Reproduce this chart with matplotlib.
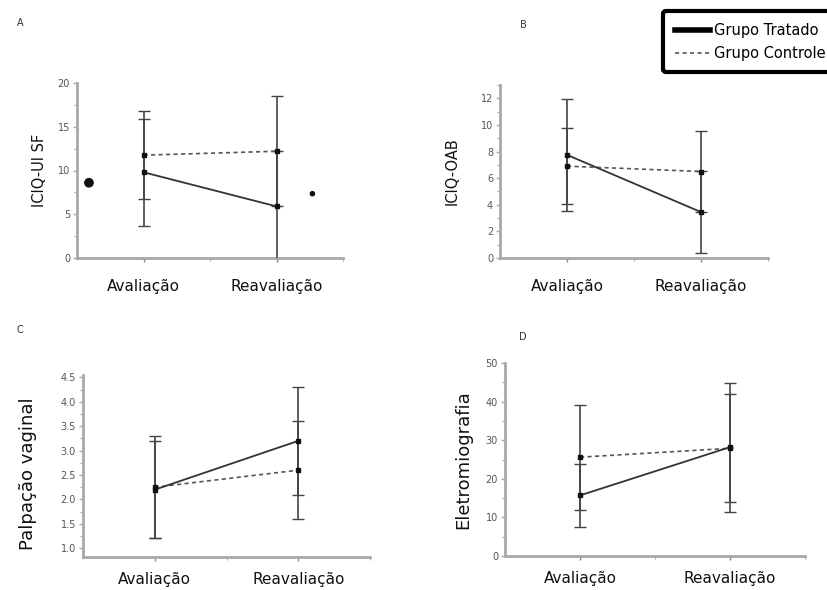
import matplotlib
matplotlib.use("Agg")
import matplotlib.pyplot as plt
from matplotlib.lines import Line2D
from matplotlib.ticker import MultipleLocator

plt.rcParams['font.family'] = ['DejaVu Sans']

categories = ["Avaliação", "Reavaliação"]
x_pos = [1, 2]

# Panel A: ICIQ-UI SF
a_trat = [9.8, 5.9]
a_trat_err = [6.1, 6.3]
a_ctrl = [11.75, 12.2]
a_ctrl_err = [5.0, 6.3]
a_stray_x = [0.59, 2.27]
a_stray_y = [8.6, 7.35]
a_stray_size = [6, 3]

# Panel B: ICIQ-OAB
b_trat = [7.75, 3.45]
b_trat_err = [4.2, 3.07]
b_ctrl = [6.9, 6.5]
b_ctrl_err = [2.85, 3.07]

# Panel C: Palpação vaginal
c_trat = [2.2, 3.2]
c_trat_err = [1.0, 1.1]
c_ctrl = [2.25, 2.6]
c_ctrl_err = [1.05, 1.0]

# Panel D: Eletromiografia
d_trat = [15.7, 28.2]
d_trat_err = [8.2, 16.7]
d_ctrl = [25.6, 27.9]
d_ctrl_err = [13.6, 14.0]

fig = plt.figure(figsize=(8.27, 5.90), dpi=100)

W, H = 827, 590
def axes_px(l, t, r, b):
    return fig.add_axes([l / W, 1 - b / H, (r - l) / W, (b - t) / H])

panels = [
    dict(box=(77, 83, 343, 258), trat=a_trat, te=a_trat_err, ctrl=a_ctrl, ce=a_ctrl_err,
         ylim=(0, 20), major=5, minor=2.5, label="ICIQ-UI SF", lsize=10.5,
         letter="A", lpos=(20, 23), fmt="{:.0f}", lx=-0.113, ly=0.5, pad=12),
    dict(box=(500, 85, 768, 258), trat=b_trat, te=b_trat_err, ctrl=b_ctrl, ce=b_ctrl_err,
         ylim=(0, 13), major=2, minor=1, label="ICIQ-OAB", lsize=10.5,
         letter="B", lpos=(523, 25), fmt="{:.0f}", lx=-0.15, ly=0.5, pad=12),
    dict(box=(83, 375, 370, 557), trat=c_trat, te=c_trat_err, ctrl=c_ctrl, ce=c_ctrl_err,
         ylim=(0.82, 4.55), major=0.5, minor=0.25, label="Palpação vaginal", lsize=13,
         letter="C", lpos=(20, 330), fmt="{:.1f}", lx=-0.16, ly=0.46, pad=8),
    dict(box=(505, 363, 805, 556), trat=d_trat, te=d_trat_err, ctrl=d_ctrl, ce=d_ctrl_err,
         ylim=(0, 50), major=10, minor=5, label="Eletromiografia", lsize=13,
         letter="D", lpos=(523, 337), fmt="{:.0f}", lx=-0.11, ly=0.5, pad=8),
]

spine_col = "#a8a8a8"
for p in panels:
    ax = axes_px(*p["box"])
    ax.errorbar(x_pos, p["ctrl"], yerr=p["ce"], color="#555555", ls=(0, (2.5, 2)),
                lw=1.2, marker="s", ms=3, mfc="#111111", mec="#111111",
                ecolor="#444444", elinewidth=1.2, capsize=4, capthick=1.0, zorder=3)
    ax.errorbar(x_pos, p["trat"], yerr=p["te"], color="#333333", ls="-",
                lw=1.3, marker="s", ms=3, mfc="#111111", mec="#111111",
                ecolor="#444444", elinewidth=1.2, capsize=4, capthick=1.0, zorder=3)
    ax.set_xlim(0.5, 2.5)
    ax.set_ylim(*p["ylim"])
    ax.yaxis.set_major_locator(MultipleLocator(p["major"]))
    ax.yaxis.set_minor_locator(MultipleLocator(p["minor"]))
    ax.set_yticks(ax.get_yticks())
    ax.set_yticklabels([p["fmt"].format(v) for v in ax.get_yticks()])
    ax.set_ylim(*p["ylim"])
    ax.set_xticks(x_pos)
    ax.set_xticklabels(categories, fontsize=11)
    ax.set_xticks([1.5, 2.5], minor=True)
    for s in ["top", "right"]:
        ax.spines[s].set_visible(False)
    for s in ["left", "bottom"]:
        ax.spines[s].set_color(spine_col)
        ax.spines[s].set_linewidth(2)
    ax.tick_params(axis="y", which="major", labelsize=7, labelcolor="#555555",
                   color=spine_col, length=3, width=1, pad=2)
    ax.tick_params(axis="y", which="minor", color=spine_col, length=2, width=0.8)
    ax.tick_params(axis="x", which="major", color="#888888", length=3, width=1,
                   pad=p["pad"], labelcolor="#111111")
    ax.tick_params(axis="x", which="minor", color=spine_col, length=2, width=0.8)
    ax.set_ylabel(p["label"], fontsize=p["lsize"], color="#111111")
    ax.yaxis.set_label_coords(p["lx"], p["ly"])
    ax.set_facecolor("none")
    fig.text(p["lpos"][0] / W, 1 - p["lpos"][1] / H, p["letter"], fontsize=7,
             color="#333333", ha="center", va="center")
    if p["letter"] == "A":
        ax.scatter(a_stray_x, a_stray_y, s=[v ** 2 for v in a_stray_size],
                   color="#111111", marker="o", zorder=4, clip_on=False)

handles = [Line2D([], [], color="black", lw=4),
           Line2D([], [], color="#555555", lw=1.2, ls=(0, (2.5, 2)))]
leg = fig.legend(handles, ["Grupo Tratado", "Grupo Controle"],
                 loc="upper left", bbox_to_anchor=(663 / W, 1 - 11 / H),
                 fontsize=10.5, handlelength=2.4, handletextpad=0.3,
                 borderpad=0.8, labelspacing=0.55, frameon=True, fancybox=True,
                 borderaxespad=0)
fr = leg.get_frame()
fr.set_edgecolor("black")
fr.set_linewidth(3)
fr.set_facecolor("white")
fr.set_alpha(1)

fig.savefig("out.png", dpi=100)
